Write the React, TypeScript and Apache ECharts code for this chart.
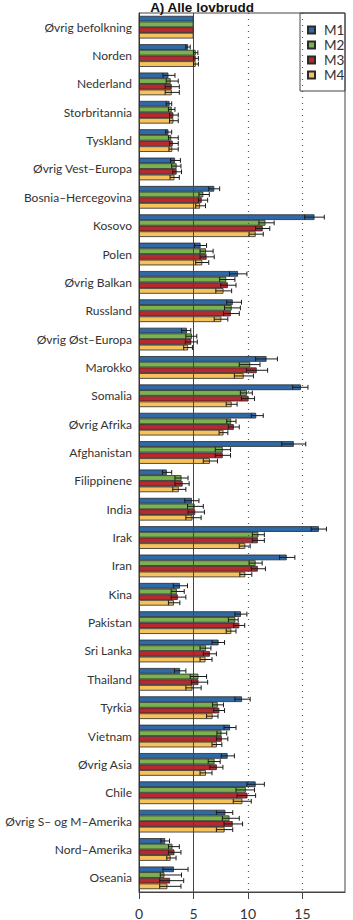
import React, { useEffect, useRef } from "react";
import * as echarts from "echarts";

const categories = [
  "Øvrig befolkning", "Norden", "Nederland", "Storbritannia", "Tyskland",
  "Øvrig Vest–Europa", "Bosnia–Hercegovina", "Kosovo", "Polen", "Øvrig Balkan",
  "Russland", "Øvrig Øst–Europa", "Marokko", "Somalia", "Øvrig Afrika",
  "Afghanistan", "Filippinene", "India", "Irak", "Iran", "Kina", "Pakistan",
  "Sri Lanka", "Thailand", "Tyrkia", "Vietnam", "Øvrig Asia", "Chile",
  "Øvrig S– og M–Amerika", "Nord–Amerika", "Oseania",
];

const seriesNames = ["M1", "M2", "M3", "M4"];
const seriesColors = ["#2f6aa6", "#79b24f", "#b5292f", "#f6c25b"];

const m1 = [5, 4.5, 2.7, 2.8, 2.7, 3.3, 6.9, 16.1, 5.65, 9.08, 8.6, 4.4, 11.7, 14.85, 10.75, 14.2, 2.55, 4.85, 16.5, 13.55, 3.75, 9.35, 7.3, 3.77, 9.45, 8.35, 8.13, 10.7, 7.92, 2.4, 3.2];
const m1Lo = [null, 4.3, 2.2, 2.5, 2.45, 2.9, 6.4, 15.2, 5.1, 8.3, 8.05, 3.9, 10.7, 14.1, 10.3, 13.1, 2.15, 4.2, 15.8, 12.9, 3.15, 8.8, 6.7, 3.25, 8.8, 7.8, 7.55, 9.9, 7.1, 2.0, 2.2];
const m1Hi = [null, 4.7, 3.3, 3.0, 3.0, 3.8, 7.4, 17.0, 6.2, 9.9, 9.4, 4.75, 12.7, 15.5, 11.4, 15.3, 3.0, 5.5, 17.2, 14.3, 4.45, 9.9, 7.85, 4.3, 10.2, 8.9, 8.75, 11.5, 8.6, 2.8, 4.5];

const m2 = [5, 5.2, 2.9, 3.0, 2.95, 3.45, 5.9, 11.6, 6.15, 8.0, 8.5, 4.85, 10.2, 9.9, 8.45, 7.68, 3.9, 5.1, 10.95, 10.7, 3.47, 8.83, 6.15, 5.45, 7.22, 7.57, 6.93, 9.8, 8.3, 3.07, 2.33];
const m2Lo = [null, 5.0, 2.5, 2.7, 2.7, 3.0, 5.5, 11.0, 5.6, 7.4, 7.85, 4.3, 9.2, 9.3, 8.05, 7.0, 3.3, 4.45, 10.4, 10.1, 2.95, 8.2, 5.6, 4.7, 6.75, 7.15, 6.35, 8.9, 7.65, 2.7, 1.95];
const m2Hi = [null, 5.4, 3.6, 3.3, 3.6, 3.85, 6.45, 12.4, 6.8, 8.8, 9.3, 5.3, 11.1, 10.4, 8.9, 8.4, 4.5, 5.9, 11.5, 11.3, 4.15, 9.1, 6.6, 6.2, 7.75, 8.05, 7.45, 10.6, 9.2, 3.7, 3.9];

const m3 = [5, 5.2, 3.0, 3.15, 3.1, 3.45, 5.75, 11.35, 6.2, 8.15, 8.42, 4.8, 10.8, 10.05, 8.7, 7.68, 4.0, 5.15, 10.9, 10.9, 3.56, 9.2, 6.5, 5.45, 7.37, 7.6, 7.14, 9.95, 8.6, 3.25, 2.85];
const m3Lo = [null, 5.0, 2.4, 2.8, 2.8, 3.1, 5.45, 10.7, 5.6, 7.5, 7.75, 4.25, 9.85, 9.4, 8.2, 7.0, 3.3, 4.5, 10.4, 10.3, 2.95, 8.7, 5.9, 4.8, 6.85, 7.1, 6.5, 9.0, 7.8, 2.7, 1.9];
const m3Hi = [null, 5.45, 3.7, 3.6, 3.6, 3.9, 6.3, 12.0, 6.9, 8.9, 9.2, 5.35, 11.8, 10.6, 9.2, 8.4, 4.6, 6.0, 11.5, 11.6, 4.3, 9.7, 7.1, 6.3, 7.85, 8.15, 7.7, 10.7, 9.5, 3.85, 4.1];

const m4 = [5, 5.2, 3.0, 3.15, 3.05, 3.25, 5.6, 10.7, 5.8, 7.75, 7.55, 4.5, 9.6, 8.5, 7.75, 6.5, 3.65, 4.9, 9.75, 9.75, 3.2, 8.47, 6.1, 4.9, 6.75, 7.14, 6.14, 9.48, 7.85, 2.9, 2.6];
const m4Lo = [null, 5.0, 2.4, 2.8, 2.75, 2.85, 5.2, 10.1, 5.2, 7.05, 6.9, 4.1, 8.75, 8.0, 7.35, 5.9, 3.1, 4.3, 9.2, 9.25, 2.7, 8.0, 5.6, 4.3, 6.2, 6.7, 5.6, 8.65, 7.1, 2.55, 1.9];
const m4Hi = [null, 5.45, 3.7, 3.6, 3.6, 3.7, 6.1, 11.4, 6.4, 8.5, 8.15, 4.9, 10.5, 9.0, 8.15, 7.2, 4.3, 5.7, 10.2, 10.35, 3.75, 8.9, 6.7, 5.7, 7.25, 7.6, 6.7, 10.3, 8.6, 3.4, 3.85];

const xTicks = [0, 5, 10, 15];
const referenceLine = 5;
const dottedLines = [10, 15];

const values = [m1, m2, m3, m4];
const lows = [m1Lo, m2Lo, m3Lo, m4Lo];
const highs = [m1Hi, m2Hi, m3Hi, m4Hi];

const GAP = 0.2;
const FONT = "Lato, 'Noto Sans', sans-serif";

export default function App() {
  const ref = useRef<HTMLDivElement>(null);
  useEffect(() => {
    document.body.style.margin = "0";
    if (!ref.current) return;
    const chart = echarts.init(ref.current, undefined, { renderer: "svg" });

    const errData: any[] = [];
    lows.forEach((lo, s) => {
      lo.forEach((l, i) => {
        if (l != null && highs[s][i] != null) errData.push([l, highs[s][i], i, s]);
      });
    });

    const barSeries = seriesNames.map((name, s) => ({
      name,
      type: "bar",
      data: values[s],
      barGap: "0%",
      barCategoryGap: GAP * 100 + "%",
      itemStyle: { color: seriesColors[s], borderColor: "#2a2a2a", borderWidth: 0.8 },
      z: 2,
    }));

    const legends = seriesNames.map((name, s) => ({
      data: [name],
      orient: "vertical",
      left: 307,
      top: 31 + s * 15 - 8,
      itemWidth: 7,
      itemHeight: 7,
      icon: "rect",
      selectedMode: false,
      padding: 0,
      textStyle: { color: "#333", fontSize: 13.5, fontFamily: FONT, padding: [0, 0, 0, 4] },
    }));

    chart.setOption({
      animation: false,
      textStyle: { fontFamily: FONT },
      grid: { left: 139, right: 8, top: 13, bottom: 28, show: true, borderColor: "#444", borderWidth: 1 },
      xAxis: {
        type: "value",
        min: 0,
        max: 18.9,
        interval: 5,
        splitLine: { show: false },
        axisLine: { show: true, lineStyle: { color: "#444" } },
        axisTick: { show: true, length: 7, lineStyle: { color: "#444" } },
        axisLabel: {
          color: "#333", fontSize: 14, margin: 14, fontFamily: FONT,
          showMaxLabel: false,
          formatter: (v: number) => (xTicks.includes(v) ? String(v) : ""),
        },
      },
      yAxis: {
        type: "category",
        data: categories,
        inverse: true,
        axisLine: { show: true, lineStyle: { color: "#333" } },
        axisTick: { show: false },
        axisLabel: { color: "#333", fontSize: 12, margin: 7, fontFamily: FONT },
      },
      legend: legends,
      graphic: [
        {
          type: "rect",
          shape: { x: 300, y: 13, width: 45, height: 78 },
          style: { fill: "none", stroke: "#444", lineWidth: 1 },
          z: 10,
        },
        {
          type: "text",
          x: 202,
          y: 7,
          style: {
            text: "A) Alle lovbrudd",
            fontFamily: "'Liberation Sans', Arial, sans-serif",
            fontWeight: "bold",
            fontSize: 13.5,
            fill: "#111",
            textAlign: "center",
            textVerticalAlign: "middle",
          },
        },
      ],
      series: [
        ...barSeries,
        {
          type: "custom",
          name: "err",
          data: errData,
          encode: { x: [0, 1], y: 2 },
          z: 5,
          renderItem: (params: any, api: any) => {
            const lo = api.value(0);
            const hi = api.value(1);
            const cat = api.value(2);
            const s = api.value(3);
            const p1 = api.coord([lo, cat]);
            const p2 = api.coord([hi, cat]);
            const band = api.size([0, 1])[1];
            const total = band * (1 - GAP);
            const bw = total / 4;
            const y = p1[1] - total / 2 + (s + 0.5) * bw;
            const h = bw * 0.42;
            const st = { stroke: "#1a1a1a", lineWidth: 1 };
            return {
              type: "group",
              children: [
                { type: "line", shape: { x1: p1[0], y1: y, x2: p2[0], y2: y }, style: st },
                { type: "line", shape: { x1: p1[0], y1: y - h, x2: p1[0], y2: y + h }, style: st },
                { type: "line", shape: { x1: p2[0], y1: y - h, x2: p2[0], y2: y + h }, style: st },
              ],
            };
          },
        },
        {
          type: "line",
          name: "ref",
          data: [],
          z: 6,
          markLine: {
            silent: true,
            symbol: "none",
            label: { show: false },
            data: [
              { xAxis: referenceLine, lineStyle: { color: "#444", width: 1, type: "solid" } },
              ...dottedLines.map((v) => ({ xAxis: v, lineStyle: { color: "#555", width: 1.2, type: [1, 5] } })),
            ],
          },
        },
      ],
    });
    return () => chart.dispose();
  }, []);
  return <div ref={ref} style={{ width: 353, height: 920 }} />;
}
